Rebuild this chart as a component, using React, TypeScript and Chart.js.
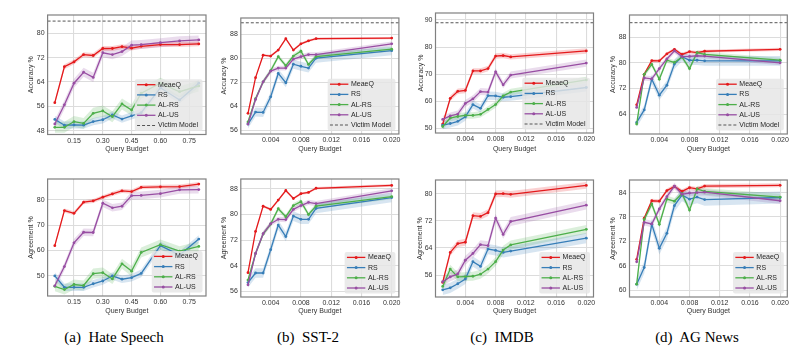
import React, { useEffect, useRef } from "react";
import { Chart, registerables } from "chart.js";
Chart.register(...registerables);

const SERIES = ["MeaeQ", "RS", "AL-RS", "AL-US"];
const COLORS = ["#e41a1c", "#377eb8", "#4daf4a", "#984ea3"];
const BANDS = ["rgba(228,26,28,0.2)", "rgba(55,126,184,0.2)", "rgba(77,175,74,0.2)", "rgba(152,78,163,0.2)"];

const hateBudget = [0.05, 0.1, 0.15, 0.2, 0.25, 0.3, 0.35, 0.4, 0.45, 0.5, 0.6, 0.7, 0.8];
const budget = [0.001, 0.002, 0.003, 0.004, 0.005, 0.006, 0.007, 0.008, 0.009, 0.01, 0.02];

const hateXTicks = [0.15, 0.3, 0.45, 0.6, 0.75];
const budgetXTicks = [0.004, 0.008, 0.012, 0.016, 0.02];

const hateAccTicks = [48, 56, 64, 72, 80];
const sstAccTicks = [56, 64, 72, 80, 88];
const imdbAccTicks = [50, 60, 70, 80, 90];
const agAccTicks = [64, 72, 80, 88];
const hateAgrTicks = [50, 60, 70, 80];
const sstAgrTicks = [56, 64, 72, 80, 88];
const imdbAgrTicks = [56, 64, 72, 80];
const agAgrTicks = [60, 66, 72, 78, 84];

const hateVictim = 84.0;
const sstVictim = 91.9;
const imdbVictim = 89.0;
const agVictim = 92.5;

// Hate Speech - accuracy
const hateAccMeaeQ = [57.2, 69.0, 70.6, 73.0, 72.7, 75.0, 75.0, 75.6, 75.1, 75.7, 76.3, 76.3, 76.5];
const hateAccRS = [51.7, 49.8, 49.9, 49.8, 51.0, 51.6, 53.2, 51.8, 52.9, 53.9, 62.1, 58.1, 63.6];
const hateAccALRS = [49.1, 49.1, 51.0, 50.4, 53.7, 54.5, 52.6, 56.8, 54.8, 60.3, 63.6, 60.8, 62.7];
const hateAccALUS = [50.2, 56.5, 63.6, 67.2, 65.5, 73.6, 73.0, 74.0, 76.1, 76.3, 76.9, 77.5, 77.8];
const hateAccSpread = [0.8, 1.2, 1.8, 1.5];

// Hate Speech - agreement
const hateAgrMeaeQ = [61.9, 75.8, 74.7, 79.1, 79.6, 81.1, 82.4, 83.6, 83.3, 85.0, 85.2, 85.3, 86.3];
const hateAgrRS = [49.9, 45.4, 45.4, 45.4, 46.8, 47.9, 49.9, 48.6, 49.2, 50.9, 61.9, 58.2, 64.5];
const hateAgrALRS = [45.8, 44.5, 46.5, 46.1, 50.8, 51.2, 48.7, 54.7, 51.8, 59.2, 62.3, 59.7, 61.6];
const hateAgrALUS = [46.0, 53.6, 63.0, 67.2, 67.1, 78.7, 76.9, 77.5, 81.7, 81.8, 82.5, 84.0, 84.1];
const hateAgrSpread = [0.8, 1.5, 2.0, 1.5];

// SST-2
const sstAccMeaeQ = [61.7, 73.6, 81.1, 80.8, 82.8, 86.6, 82.8, 84.9, 85.9, 86.6, 86.8];
const sstAccRS = [58.1, 62.1, 62.0, 67.2, 75.0, 71.9, 78.1, 77.4, 76.8, 80.1, 82.6];
const sstAccALRS = [58.8, 66.6, 72.2, 75.9, 80.6, 77.6, 80.8, 82.4, 78.0, 80.6, 83.1];
const sstAccALUS = [58.1, 66.3, 72.2, 75.8, 76.8, 76.8, 79.8, 80.6, 81.3, 81.3, 84.9];
const sstAccSpread = [0.4, 1.5, 0.8, 0.8];

const sstAgrMeaeQ = [61.8, 74.7, 82.6, 81.6, 84.5, 87.5, 85.0, 86.5, 86.9, 88.2, 89.1];
const sstAgrRS = [58.7, 61.7, 61.7, 69.0, 76.7, 73.1, 79.5, 78.5, 78.5, 81.9, 85.3];
const sstAgrALRS = [59.5, 67.8, 73.9, 77.0, 81.8, 79.3, 82.8, 84.0, 80.0, 82.6, 85.6];
const sstAgrALUS = [58.0, 67.8, 74.0, 77.1, 78.5, 78.4, 81.6, 82.8, 83.8, 83.4, 87.4];
const sstAgrSpread = [0.4, 1.5, 0.8, 0.8];

// IMDB
const imdbAccMeaeQ = [51.6, 61.1, 63.7, 64.0, 71.2, 71.2, 72.1, 76.7, 76.9, 76.4, 78.6];
const imdbAccRS = [51.2, 51.8, 52.6, 54.3, 58.8, 57.4, 62.1, 62.0, 61.5, 61.7, 65.1];
const imdbAccALRS = [50.7, 53.8, 54.4, 54.8, 54.8, 55.2, 57.0, 58.8, 62.0, 63.4, 67.9];
const imdbAccALUS = [53.3, 54.6, 55.3, 59.2, 60.9, 63.6, 63.4, 70.9, 66.1, 69.7, 74.1];
const imdbAccSpread = [1.0, 1.5, 1.2, 1.3];

const imdbAgrMeaeQ = [53.9, 62.7, 65.3, 65.7, 73.5, 73.3, 74.4, 79.9, 80.0, 79.8, 82.4];
const imdbAgrRS = [51.7, 52.3, 53.5, 54.9, 60.0, 58.6, 63.7, 63.3, 62.7, 63.1, 66.9];
const imdbAgrALRS = [52.7, 57.8, 55.5, 55.6, 55.7, 56.3, 57.8, 60.0, 63.4, 64.9, 69.5];
const imdbAgrALUS = [54.1, 55.5, 56.4, 60.4, 62.4, 65.0, 64.7, 72.8, 68.0, 71.8, 76.6];
const imdbAgrSpread = [1.0, 1.5, 1.3, 1.3];

// AG News
const agAccMeaeQ = [66.9, 76.4, 80.7, 80.6, 82.8, 84.2, 82.6, 83.5, 83.2, 83.6, 84.2];
const agAccRS = [61.4, 65.3, 74.9, 69.9, 73.0, 79.6, 81.9, 80.8, 80.8, 80.6, 80.6];
const agAccALRS = [60.9, 76.4, 79.5, 74.9, 80.8, 80.1, 81.8, 78.2, 83.2, 82.6, 80.8];
const agAccALUS = [66.1, 75.3, 75.0, 78.2, 81.2, 83.7, 81.9, 82.0, 82.2, 82.1, 80.0];
const agAccSpread = [0.5, 1.5, 0.8, 0.8];

const agAgrMeaeQ = [67.6, 77.7, 82.0, 81.9, 84.5, 85.5, 84.3, 85.2, 84.9, 85.6, 85.8];
const agAgrRS = [61.5, 65.6, 76.2, 70.3, 74.0, 80.8, 83.4, 82.4, 82.9, 82.3, 82.8];
const agAgrALRS = [61.5, 77.4, 81.2, 76.2, 82.4, 81.9, 83.8, 79.7, 84.9, 84.3, 82.9];
const agAgrALUS = [67.0, 76.7, 76.3, 80.0, 83.0, 85.6, 83.6, 83.9, 84.0, 84.1, 82.0];
const agAgrSpread = [0.5, 1.5, 0.8, 0.8];

const CAPTIONS = ["(a)", "(b)", "(c)", "(d)"];
const CAPTION_NAMES = ["Hate Speech", "SST-2", "IMDB", "AG News"];

type Spec = {
  x: number[];
  series: number[][];
  spread: number[];
  xTicks: number[];
  xDec: number;
  yTicks: number[];
  yTitle: string;
  victim?: number;
  box: [number, number, number, number];
  xRange: [number, number];
  yRange: [number, number];
  yTitleX: number;
  xTitleY: number;
};

const FONT = '"Liberation Sans", Arial, sans-serif';
const TEXT = "#333333";

const hateRange: [number, number] = [0.0125, 0.8375];
const budgetRange: [number, number] = [0.00005, 0.02095];

const specs: Spec[] = [
  { x: hateBudget, series: [hateAccMeaeQ, hateAccRS, hateAccALRS, hateAccALUS], spread: hateAccSpread, xTicks: hateXTicks, xDec: 2, yTicks: hateAccTicks, yTitle: "Accuracy %", victim: hateVictim, box: [47.6, 15, 206, 134.5], xRange: hateRange, yRange: [46.75, 86.0], yTitleX: 30.7, xTitleY: 148.3 },
  { x: budget, series: [sstAccMeaeQ, sstAccRS, sstAccALRS, sstAccALUS], spread: sstAccSpread, xTicks: budgetXTicks, xDec: 3, yTicks: sstAccTicks, yTitle: "Accuracy %", victim: sstVictim, box: [240.8, 18, 398.9, 134], xRange: budgetRange, yRange: [54.8, 93.5], yTitleX: 224.5, xTitleY: 148.3 },
  { x: budget, series: [imdbAccMeaeQ, imdbAccRS, imdbAccALRS, imdbAccALUS], spread: imdbAccSpread, xTicks: budgetXTicks, xDec: 3, yTicks: imdbAccTicks, yTitle: "Accuracy %", victim: imdbVictim, box: [435.5, 13, 593.5, 133], xRange: budgetRange, yRange: [48.3, 92.6], yTitleX: 420.7, xTitleY: 148.3 },
  { x: budget, series: [agAccMeaeQ, agAccRS, agAccALRS, agAccALUS], spread: agAccSpread, xTicks: budgetXTicks, xDec: 3, yTicks: agAccTicks, yTitle: "Accuracy %", victim: agVictim, box: [629.5, 15, 787.3, 134], xRange: budgetRange, yRange: [57.8, 94.9], yTitleX: 613.3, xTitleY: 148.3 },
  { x: hateBudget, series: [hateAgrMeaeQ, hateAgrRS, hateAgrALRS, hateAgrALUS], spread: hateAgrSpread, xTicks: hateXTicks, xDec: 2, yTicks: hateAgrTicks, yTitle: "Agreement %", box: [47.6, 179, 206, 296], xRange: hateRange, yRange: [41.95, 88.3], yTitleX: 30.7, xTitleY: 310.7 },
  { x: budget, series: [sstAgrMeaeQ, sstAgrRS, sstAgrALRS, sstAgrALUS], spread: sstAgrSpread, xTicks: budgetXTicks, xDec: 3, yTicks: sstAgrTicks, yTitle: "Agreement %", box: [240.8, 179, 398.9, 297], xRange: budgetRange, yRange: [54.2, 91.1], yTitleX: 224.5, xTitleY: 310.7 },
  { x: budget, series: [imdbAgrMeaeQ, imdbAgrRS, imdbAgrALRS, imdbAgrALUS], spread: imdbAgrSpread, xTicks: budgetXTicks, xDec: 3, yTicks: imdbAgrTicks, yTitle: "Agreement %", box: [435.5, 180, 593.5, 297], xRange: budgetRange, yRange: [49.6, 84.0], yTitleX: 420.3, xTitleY: 310.7 },
  { x: budget, series: [agAgrMeaeQ, agAgrRS, agAgrALRS, agAgrALUS], spread: agAgrSpread, xTicks: budgetXTicks, xDec: 3, yTicks: agAgrTicks, yTitle: "Agreement %", box: [629.5, 180, 787.3, 297], xRange: budgetRange, yRange: [58.35, 87.1], yTitleX: 613.3, xTitleY: 310.7 },
];

const framePlugin = {
  id: "frameAndLegend",
  afterDraw(chart: any) {
    const { ctx, chartArea: ca } = chart;
    ctx.save();
    ctx.strokeStyle = "#808080";
    ctx.lineWidth = 1.2;
    ctx.strokeRect(ca.left, ca.top, ca.right - ca.left, ca.bottom - ca.top);

    const items = chart.data.datasets.filter((d: any) => d.legendLabel);
    ctx.font = `7px ${FONT}`;
    const tw = Math.max(...items.map((d: any) => ctx.measureText(d.legendLabel).width));
    const rowH = 10.2;
    const w = 23.3 + tw + 4.5;
    const h = 11 + (items.length - 1) * rowH;
    const lx = ca.right - 3.5 - w;
    const ly = ca.bottom - 3.5 - h;
    ctx.fillStyle = "rgba(229,229,229,0.82)";
    ctx.beginPath();
    if (ctx.roundRect) ctx.roundRect(lx, ly, w, h, 2);
    else ctx.rect(lx, ly, w, h);
    ctx.fill();
    items.forEach((d: any, i: number) => {
      const cy = ly + 5.5 + i * rowH;
      ctx.strokeStyle = d.borderColor;
      ctx.lineWidth = d.borderDash ? 1 : 1.3;
      ctx.setLineDash(d.borderDash || []);
      ctx.beginPath();
      ctx.moveTo(lx + 2.3, cy);
      ctx.lineTo(lx + 20.7, cy);
      ctx.stroke();
      ctx.setLineDash([]);
      if (!d.borderDash) {
        ctx.fillStyle = d.borderColor;
        ctx.beginPath();
        ctx.arc(lx + 11.5, cy, 1.5, 0, Math.PI * 2);
        ctx.fill();
      }
      ctx.fillStyle = "#262626";
      ctx.textBaseline = "middle";
      ctx.textAlign = "left";
      ctx.fillText(d.legendLabel, lx + 23.3, cy);
    });
    ctx.restore();
  },
};

function Panel({ spec }: { spec: Spec }) {
  const ref = useRef<HTMLCanvasElement>(null);
  const [l, t, r, b] = spec.box;
  const cx = Math.round(spec.yTitleX - 4.2);
  const cy = Math.round(t - 6);
  const cr = Math.round(r + 10);
  const cb = Math.round(spec.xTitleY + 4.2);
  const W = cr - cx;
  const H = cb - cy;

  useEffect(() => {
    if (!ref.current) return;
    const datasets: any[] = [];
    spec.series.forEach((vals, i) => {
      datasets.push({
        data: spec.x.map((xv, j) => ({ x: xv, y: vals[j] + spec.spread[i] })),
        borderWidth: 0, borderColor: "rgba(0,0,0,0)", pointRadius: 0, fill: false, order: 20,
      });
      datasets.push({
        data: spec.x.map((xv, j) => ({ x: xv, y: vals[j] - spec.spread[i] })),
        borderWidth: 0, borderColor: "rgba(0,0,0,0)", pointRadius: 0, fill: "-1", backgroundColor: BANDS[i], order: 20,
      });
    });
    spec.series.forEach((vals, i) => {
      datasets.push({
        legendLabel: SERIES[i],
        data: spec.x.map((xv, j) => ({ x: xv, y: vals[j] })),
        borderColor: COLORS[i],
        backgroundColor: COLORS[i],
        borderWidth: 1.3,
        pointRadius: 1.4,
        pointBorderWidth: 0,
        pointBackgroundColor: COLORS[i],
        fill: false,
        tension: 0,
        order: 4 - i,
      });
    });
    if (spec.victim !== undefined) {
      datasets.push({
        legendLabel: "Victim Model",
        data: [{ x: spec.xRange[0], y: spec.victim }, { x: spec.xRange[1], y: spec.victim }],
        borderColor: "#555555",
        borderWidth: 1,
        borderDash: [3, 2],
        pointRadius: 0,
        fill: false,
        order: 10,
      });
    }
    const tickFont = { family: FONT, size: 7 };
    const chart = new Chart(ref.current, {
      type: "line",
      data: { datasets },
      options: {
        responsive: false,
        animation: false,
        events: [],
        layout: { padding: { left: 0, top: t - cy, right: cr - r, bottom: 0 } },
        plugins: { legend: { display: false }, tooltip: { enabled: false } },
        scales: {
          x: {
            type: "linear",
            min: spec.xRange[0],
            max: spec.xRange[1],
            afterBuildTicks: (s: any) => { s.ticks = spec.xTicks.map((v) => ({ value: v })); },
            afterFit: (s: any) => { s.height = cb - b; s.paddingLeft = 0; s.paddingRight = 0; },
            ticks: { callback: (v: any) => Number(v).toFixed(spec.xDec), font: tickFont, color: TEXT, padding: 2, maxRotation: 0, autoSkip: false },
            grid: { color: "#dcdcdc", lineWidth: 1.1, drawTicks: false },
            border: { display: false },
            title: { display: true, text: "Query Budget", font: { family: FONT, size: 7, lineHeight: 1.2 }, color: TEXT, padding: 0 },
          },
          y: {
            type: "linear",
            min: spec.yRange[0],
            max: spec.yRange[1],
            afterBuildTicks: (s: any) => { s.ticks = spec.yTicks.map((v) => ({ value: v })); },
            afterFit: (s: any) => { s.width = l - cx; s.paddingTop = 0; s.paddingBottom = 0; },
            ticks: { callback: (v: any) => String(v), font: tickFont, color: TEXT, padding: 3, autoSkip: false },
            grid: { color: "#dcdcdc", lineWidth: 1.1, drawTicks: false },
            border: { display: false },
            title: { display: true, text: spec.yTitle, font: { family: FONT, size: 7, lineHeight: 1.2 }, color: TEXT, padding: 0 },
          },
        },
      } as any,
      plugins: [framePlugin],
    });
    return () => chart.destroy();
  }, []);

  return (
    <canvas
      ref={ref}
      width={W}
      height={H}
      style={{ position: "absolute", left: cx, top: cy, width: W, height: H }}
    />
  );
}

const captionCenters = [114, 308, 502, 697];

export default function App() {
  return (
    <div style={{ position: "absolute", left: 0, top: 0, width: 809, height: 354, background: "#ffffff", overflow: "hidden" }}>
      {specs.map((s, i) => (
        <Panel key={i} spec={s} />
      ))}
      {captionCenters.map((c, i) => (
        <div
          key={"c" + i}
          style={{
            position: "absolute",
            left: c - 100,
            width: 200,
            top: 328,
            textAlign: "center",
            fontFamily: '"Liberation Serif", "Times New Roman", serif',
            fontSize: 15,
            lineHeight: "18px",
            color: "#000",
            whiteSpace: "pre",
          }}
        >
          {CAPTIONS[i] + "  " + CAPTION_NAMES[i]}
        </div>
      ))}
    </div>
  );
}
